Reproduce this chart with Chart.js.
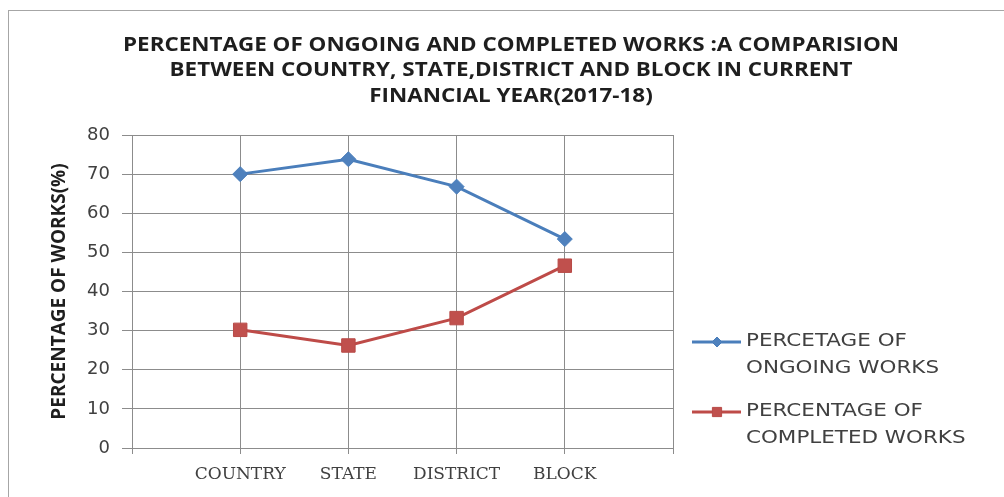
<!DOCTYPE html>
<html><head><meta charset="utf-8">
<script src="https://cdn.jsdelivr.net/npm/chart.js@4/dist/chart.umd.min.js"></script>
<style>
html,body{margin:0;padding:0;background:#fff;overflow:hidden}
#wrap{position:relative;width:1004px;height:497px}
#frame{position:absolute;left:8px;top:10px;width:1010px;height:500px;border:1px solid #a6a6a6;box-sizing:border-box;pointer-events:none}
canvas{position:absolute;left:0;top:0}
</style></head><body>
<div id="wrap"><canvas id="c" width="1004" height="497"></canvas><div id="frame"></div></div>
<script>
const categories = ['COUNTRY', 'STATE', 'DISTRICT', 'BLOCK'];
const ongoing = [70, 73.8, 66.8, 53.4];
const completed = [30.2, 26.2, 33.2, 46.6];
const yMin = 0, yMax = 80, yStep = 10;
const titleLines = ['PERCENTAGE OF ONGOING AND COMPLETED WORKS :A COMPARISION',
                    'BETWEEN COUNTRY, STATE,DISTRICT AND BLOCK IN CURRENT',
                    'FINANCIAL YEAR(2017-18)'];
const yAxisTitle = 'PERCENTAGE OF WORKS(%)';
const seriesNames = [['PERCETAGE OF', 'ONGOING WORKS'], ['PERCENTAGE OF', 'COMPLETED WORKS']];

const labels = [''].concat(categories, ['']);
const pad = arr => [null].concat(arr, [null]);
const gridColor = '#8c8c8c';
const textColor = '#404040';

const overlay = {
  id: 'overlay',
  afterDraw(chart) {
    const ctx = chart.ctx;
    ctx.save();
    // title
    ctx.fillStyle = '#1e1e1e';
    ctx.textAlign = 'center';
    ctx.textBaseline = 'middle';
    ctx.font = 'bold 20px "Open Sans"';
    const sx = 776 / ctx.measureText(titleLines[0]).width;
    titleLines.forEach((t, i) => {
      ctx.save(); ctx.translate(511, 45 + i * 25.5); ctx.scale(sx, 1); ctx.fillText(t, 0, 0); ctx.restore();
    });
    // legend
    ctx.font = '17px "DejaVu Sans"';
    const lsx = 193 / ctx.measureText(seriesNames[0][1]).width;
    chart.data.datasets.forEach((ds, i) => {
      const y0 = 342 + i * 70;
      ctx.strokeStyle = ds.borderColor; ctx.lineWidth = 3;
      ctx.beginPath(); ctx.moveTo(692, y0); ctx.lineTo(741, y0); ctx.stroke();
      ctx.fillStyle = ds.pointBackgroundColor; ctx.strokeStyle = ds.pointBorderColor; ctx.lineWidth = 1;
      Chart.helpers.drawPoint(ctx, {pointStyle: ds.pointStyle, radius: i === 0 ? 5 : 6.5, rotation: 0, borderWidth: 1}, 717, y0);
      ctx.fillStyle = textColor; ctx.textAlign = 'left'; ctx.textBaseline = 'middle';
      seriesNames[i].forEach((t, j) => {
        ctx.save(); ctx.translate(746, y0 + j * 26.5); ctx.scale(lsx, 1); ctx.fillText(t, 0, 0); ctx.restore();
      });
    });
    ctx.restore();
  }
};

new Chart(document.getElementById('c'), {
  type: 'line',
  data: {
    labels: labels,
    datasets: [
      {label: seriesNames[0].join(' '), data: pad(ongoing), borderColor: '#4a7ebb', borderWidth: 3,
       pointStyle: 'rectRot', pointRadius: 7.5, pointBackgroundColor: '#4f81bd', pointBorderColor: '#4a7ebb', pointBorderWidth: 1, tension: 0},
      {label: seriesNames[1].join(' '), data: pad(completed), borderColor: '#be4b48', borderWidth: 3,
       pointStyle: 'rect', pointRadius: 9.5, pointBackgroundColor: '#c0504d', pointBorderColor: '#b84a47', pointBorderWidth: 1, tension: 0}
    ]
  },
  options: {
    responsive: false,
    animation: false,
    events: [],
    layout: {padding: {left: 10, top: 135, right: 331, bottom: 9}},
    plugins: {legend: {display: false}, title: {display: false}, tooltip: {enabled: false}},
    scales: {
      x: {
        type: 'category', offset: false,
        grid: {color: gridColor, lineWidth: 1, tickLength: 6, drawTicks: true},
        border: {color: gridColor, width: 1},
        ticks: {color: textColor, font: {family: '"DejaVu Serif"', size: 17}, padding: 10, autoSkip: false, maxRotation: 0},
        afterFit: s => { s.height = 40; }
      },
      y: {
        min: yMin, max: yMax,
        grid: {color: gridColor, lineWidth: 1, tickLength: 10},
        border: {color: gridColor, width: 1},
        ticks: {stepSize: yStep, color: textColor, font: {family: '"DejaVu Sans"', size: 18}, padding: 12},
        title: {display: true, text: yAxisTitle, color: '#1e1e1e', font: {family: '"Open Sans"', size: 19, weight: 'bold'}, padding: {top: 38, bottom: 0}},
        afterFit: s => { s.width = 122; }
      }
    }
  },
  plugins: [overlay]
});
</script>
</body></html>
